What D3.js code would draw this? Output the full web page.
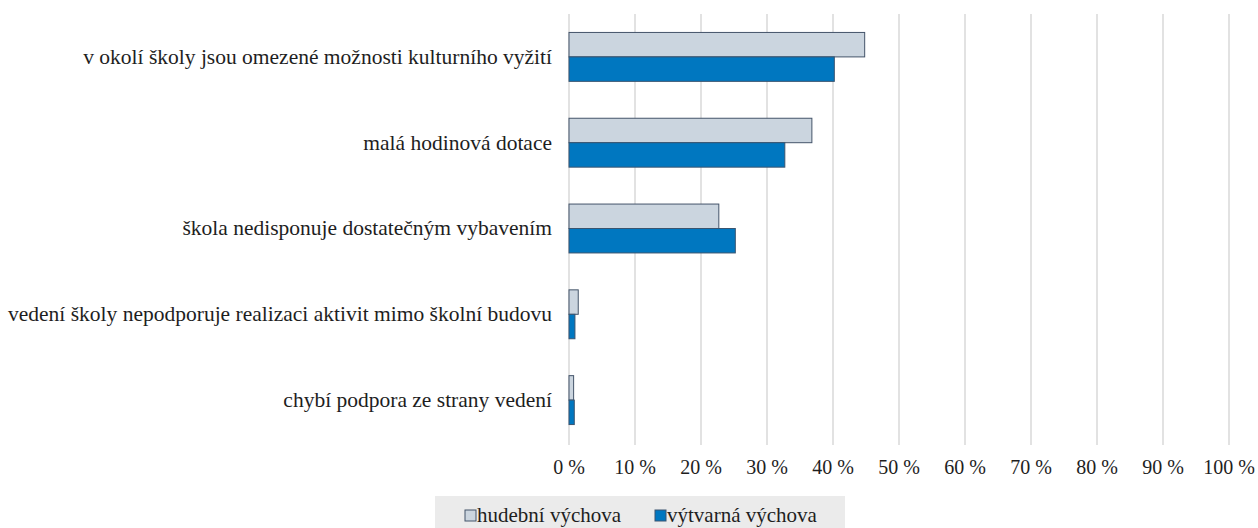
<!DOCTYPE html>
<html>
<head>
<meta charset="UTF-8">
<title>Důvody</title>
<script src="https://d3js.org/d3.v7.min.js"></script>
<style>
    body { margin: 0; padding: 0; background: #fff; }
    svg { display: block; }
</style>
</head>
<body>
<script>
    const categories = [
        "v okolí školy jsou omezené možnosti kulturního vyžití",
        "malá hodinová dotace",
        "škola nedisponuje dostatečným vybavením",
        "vedení školy nepodporuje realizaci aktivit mimo školní budovu",
        "chybí podpora ze strany vedení"
    ];
    const seriesNames = ["hudební výchova", "výtvarná výchova"];
    const hudebni = [0.448, 0.368, 0.227, 0.014, 0.007];
    const vytvarna = [0.402, 0.327, 0.252, 0.009, 0.008];
    const ticks = [0, 0.1, 0.2, 0.3, 0.4, 0.5, 0.6, 0.7, 0.8, 0.9, 1];

    const W = 1258, H = 528;
    const FONT = '"Liberation Serif"';
    const TEXT = "#1e1e1e";
    const colors = { fill: ["#cbd5df", "#0077c0"], stroke: ["#44546a", "#3a5570"] };

    const svg = d3.select("body").append("svg")
        .attr("width", W).attr("height", H);

    const x = d3.scaleLinear().domain([0, 1]).range([569, 1229]);
    const y = d3.scaleBand().domain(categories).range([14, 443])
        .paddingInner(0.43).paddingOuter(0.215);
    const ySub = d3.scaleBand().domain(seriesNames).range([0, y.bandwidth()]);

    // gridlines
    svg.append("g").selectAll("line")
        .data(ticks)
        .join("line")
        .attr("x1", d => x(d)).attr("x2", d => x(d))
        .attr("y1", 14).attr("y2", 445)
        .attr("stroke", "#d9d9d9")
        .attr("stroke-width", 1.5);

    // tick labels
    svg.append("g").selectAll("text")
        .data(ticks)
        .join("text")
        .attr("x", d => x(d))
        .attr("y", 474)
        .attr("text-anchor", "middle")
        .style("font-family", FONT)
        .style("font-size", "20px")
        .style("fill", TEXT)
        .text(d => Math.round(d * 100) + "\u00a0%");

    // bars
    const rows = categories.map((c, i) => ({ cat: c, vals: [hudebni[i], vytvarna[i]] }));
    const groups = svg.append("g").selectAll("g")
        .data(rows)
        .join("g")
        .attr("transform", d => `translate(0,${y(d.cat)})`);

    groups.selectAll("rect")
        .data(d => d.vals.map((v, j) => ({ v, j })))
        .join("rect")
        .attr("x", x(0))
        .attr("y", d => ySub(seriesNames[d.j]))
        .attr("width", d => x(d.v) - x(0))
        .attr("height", ySub.bandwidth())
        .attr("fill", d => colors.fill[d.j])
        .attr("stroke", d => colors.stroke[d.j])
        .attr("stroke-width", 1);

    // category labels
    svg.append("g").selectAll("text")
        .data(categories)
        .join("text")
        .attr("x", 552)
        .attr("y", d => y(d) + y.bandwidth() / 2)
        .attr("dy", "0.32em")
        .attr("text-anchor", "end")
        .style("font-family", FONT)
        .style("font-size", "21.5px")
        .style("fill", TEXT)
        .text(d => d);

    // legend
    const legend = svg.append("g");
    legend.append("rect")
        .attr("x", 435).attr("y", 496)
        .attr("width", 410).attr("height", 32)
        .attr("fill", "#ebebeb");

    const legendX = [465, 655];
    const items = legend.selectAll("g.item")
        .data(seriesNames)
        .join("g")
        .attr("transform", (d, i) => `translate(${legendX[i]},510)`);
    items.append("rect")
        .attr("width", 11).attr("height", 11)
        .attr("fill", (d, i) => colors.fill[i])
        .attr("stroke", (d, i) => colors.stroke[i])
        .attr("stroke-width", 1);
    items.append("text")
        .attr("x", 12)
        .attr("y", 5.5)
        .attr("dy", "0.32em")
        .style("font-family", FONT)
        .style("font-size", "21px")
        .style("fill", TEXT)
        .text(d => d);
</script>
</body>
</html>
